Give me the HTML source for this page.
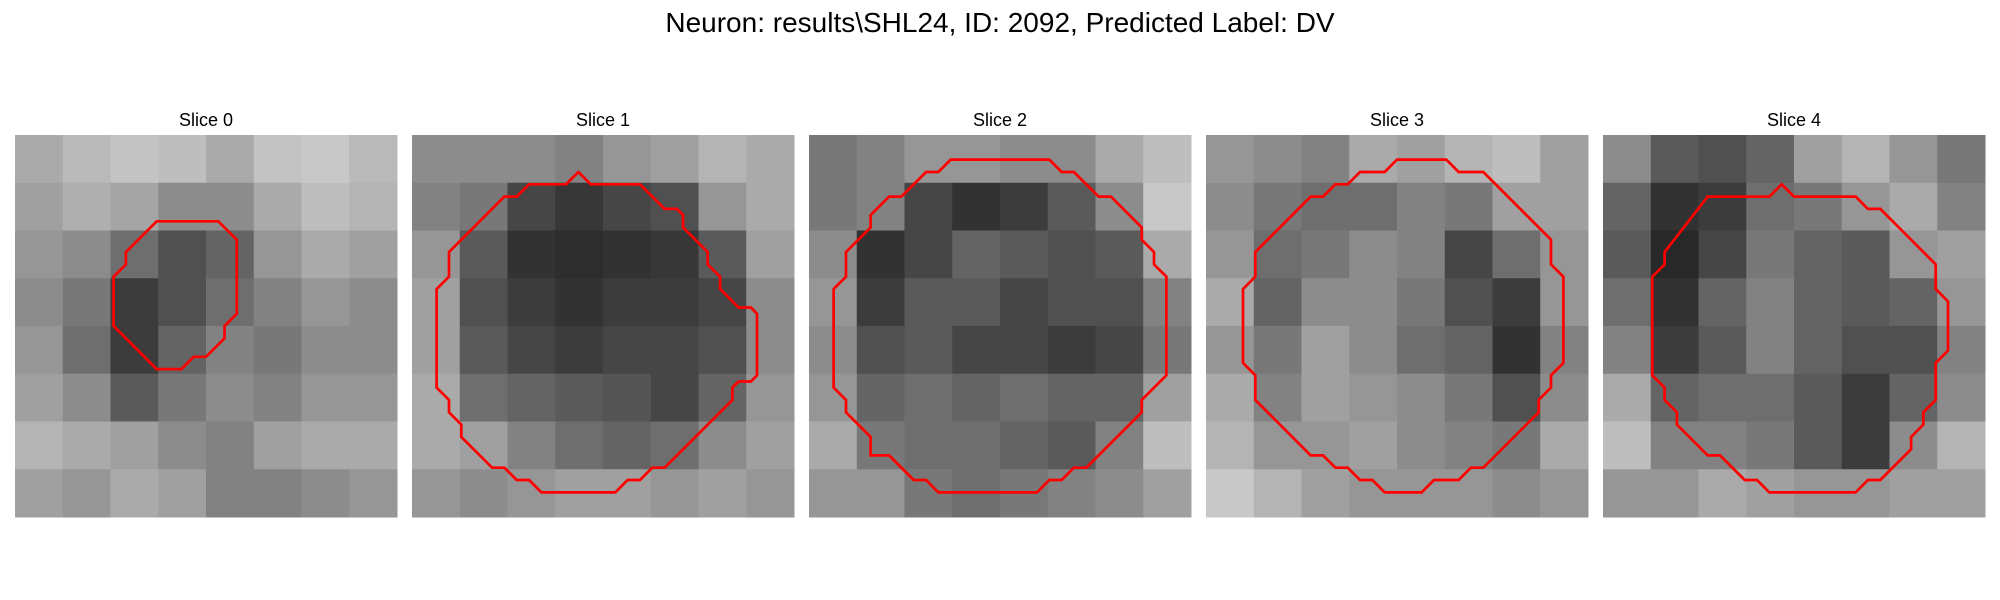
<!DOCTYPE html>
<html><head><meta charset="utf-8">
<style>
html,body{margin:0;padding:0;background:#fff;}
svg{display:block;font-family:"Liberation Sans","DejaVu Sans",sans-serif;}
</style></head>
<body>
<svg id="fig" width="2000" height="600" viewBox="0 0 2000 600" xmlns="http://www.w3.org/2000/svg">
<rect width="2000" height="600" fill="#fff"/>
<text x="1000" y="32" text-anchor="middle" font-size="28" fill="#000">Neuron: results\SHL24, ID: 2092, Predicted Label: DV</text>
</svg>
<script>
const sliceTitles = ["Slice 0","Slice 1","Slice 2","Slice 3","Slice 4"];
const gray0 = [[170,185,195,190,170,195,200,185],[160,175,165,140,140,170,190,180],[150,140,110,80,100,150,170,160],[140,120,60,80,110,130,150,140],[150,110,60,100,130,120,140,140],[160,140,90,120,140,130,150,150],[180,170,160,140,130,160,170,170],[160,150,170,160,130,130,140,150]];
const gray1 = [[140,140,140,130,150,160,180,170],[130,120,70,55,70,80,150,170],[150,90,50,45,50,55,90,160],[160,80,60,50,60,60,70,140],[160,90,70,60,70,70,80,140],[170,110,100,90,85,70,100,150],[170,160,130,110,100,110,140,160],[150,140,150,160,160,150,160,150]];
const gray2 = [[120,130,150,150,140,140,170,190],[120,130,70,50,60,90,140,200],[140,50,70,100,90,80,90,170],[150,60,90,90,70,80,80,130],[140,80,90,70,70,60,70,120],[150,100,110,100,110,100,100,160],[170,120,110,110,100,90,130,190],[150,150,120,110,120,130,140,160]];
const gray3 = [[150,140,130,170,160,180,190,160],[140,120,110,110,130,120,160,160],[150,110,120,140,130,70,110,150],[170,100,140,140,120,80,60,150],[150,120,160,140,110,100,50,130],[170,130,160,150,140,120,80,140],[180,150,150,160,140,130,120,170],[200,180,160,150,150,150,140,150]];
const gray4 = [[140,90,80,100,160,180,150,120],[100,50,60,110,120,150,170,130],[90,40,70,120,100,90,150,160],[110,50,100,130,100,90,100,150],[130,60,90,130,100,80,80,130],[170,100,110,110,90,60,100,140],[190,130,130,120,90,60,140,180],[150,150,170,160,150,150,160,160]];
const contour0 = [[11.5,7],[16.5,7],[18,8.5],[18,14.5],[17,15.5],[17,16.5],[15.5,18],[14.5,18],[13.5,19],[11.5,19],[8,15.5],[8,11.5],[9,10.5],[9,9.5]];
const contour1 = [[13.5,3],[14.5,4],[18.5,4],[20.5,6],[21.5,6],[22,6.5],[22,7.5],[24,9.5],[24,10.5],[25,11.5],[25,12.5],[26.5,14],[27.5,14],[28,14.5],[28,19.5],[27.5,20],[26.5,20],[26,20.5],[26,21.5],[20.5,27],[19.5,27],[18.5,28],[17.5,28],[16.5,29],[10.5,29],[9.5,28],[8.5,28],[7.5,27],[6.5,27],[4,24.5],[4,23.5],[3,22.5],[3,21.5],[2,20.5],[2,12.5],[3,11.5],[3,9.5],[7.5,5],[8.5,5],[9.5,4],[12.5,4]];
const contour2 = [[11.5,2],[19.5,2],[20.5,3],[21.5,3],[23.5,5],[24.5,5],[27,7.5],[27,8.5],[28,9.5],[28,10.5],[29,11.5],[29,19.5],[27,21.5],[27,22.5],[22.5,27],[21.5,27],[20.5,28],[19.5,28],[18.5,29],[10.5,29],[9.5,28],[8.5,28],[6.5,26],[5,26],[5,24.5],[3,22.5],[3,21.5],[2,20.5],[2,12.5],[3,11.5],[3,9.5],[5,7.5],[5,6.5],[6.5,5],[7.5,5],[9.5,3],[10.5,3]];
const contour3 = [[15.5,2],[19.5,2],[20.5,3],[22.5,3],[28,8.5],[28,10.5],[29,11.5],[29,18.5],[28,19.5],[28,20.5],[27,21.5],[27,22.5],[22.5,27],[21.5,27],[20.5,28],[18.5,28],[17.5,29],[14.5,29],[13.5,28],[12.5,28],[11.5,27],[10.5,27],[9.5,26],[8.5,26],[4,21.5],[4,19.5],[3,18.5],[3,12.5],[4,11.5],[4,9.5],[8.5,5],[9.5,5],[10.5,4],[11.5,4],[12.5,3],[14.5,3]];
const contour4 = [[14.5,4],[15.5,5],[20.5,5],[21.5,6],[22.5,6],[27,10.5],[27,12.5],[28,13.5],[28,17.5],[27,18.5],[27,21.5],[26,22.5],[26,23.5],[25,24.5],[25,25.5],[22.5,28],[21.5,28],[20.5,29],[13.5,29],[12.5,28],[11.5,28],[9.5,26],[8.5,26],[6,23.5],[6,22.5],[5,21.5],[5,20.5],[4,19.5],[4,11.5],[5,10.5],[5,9.5],[8.5,5],[13.5,5]];

const grays=[gray0,gray1,gray2,gray3,gray4];
const contours=[contour0,contour1,contour2,contour3,contour4];
const NS="http://www.w3.org/2000/svg";
const svg=document.getElementById('fig');
const panelX=[15,412,809,1206,1603], panelY=135, panelW=382, N=31;
function sx(i,c){return panelX[i]+c*panelW/N;}
function sy(r){return panelY+r*panelW/N;}
for(let i=0;i<5;i++){
  const g=document.createElementNS(NS,'g');
  
  
  svg.appendChild(g);
  const t=document.createElementNS(NS,'text');
  
  
  t.setAttribute('x',panelX[i]+panelW/2);t.setAttribute('y',126);
  t.setAttribute('text-anchor','middle');t.setAttribute('font-size','18');
  t.textContent=sliceTitles[i];g.appendChild(t);
  const grid=grays[i], n=grid.length, bw=panelW/n;
  for(let r=0;r<n;r++)for(let c=0;c<n;c++){
    const v=grid[r][c];
    const rc=document.createElementNS(NS,'rect');
    
    
    rc.setAttribute('x',panelX[i]+c*bw);rc.setAttribute('y',panelY+r*bw);
    rc.setAttribute('width',bw+0.5);rc.setAttribute('height',bw+0.5);
    rc.setAttribute('fill','rgb('+v+','+v+','+v+')');
    g.appendChild(rc);
  }
  const p=document.createElementNS(NS,'polygon');
  
  
  p.setAttribute('points',contours[i].map(q=>sx(i,q[0]).toFixed(1)+','+sy(q[1]).toFixed(1)).join(' '));
  p.setAttribute('fill','none');p.setAttribute('stroke','#ff0000');p.setAttribute('stroke-width','2.7');
  p.setAttribute('stroke-linejoin','miter');
  g.appendChild(p);
}
</script>
</body></html>
